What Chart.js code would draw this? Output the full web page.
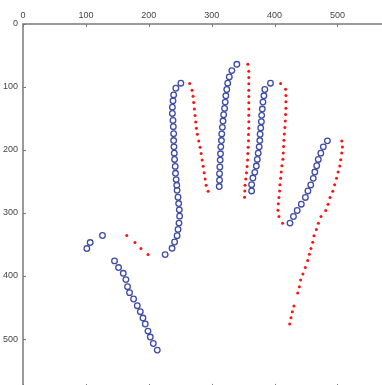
<!DOCTYPE html>
<html>
<head>
<meta charset="utf-8">
<script src="https://cdn.jsdelivr.net/npm/chart.js@4/dist/chart.umd.min.js"></script>
<style>
html,body{margin:0;padding:0;overflow:hidden;background:#fff;width:382px;height:385px;}
#c{position:absolute;left:0;top:0;width:390px;height:391px;}
</style>
</head>
<body>
<canvas id="c" width="390" height="391"></canvas>
<script>
// Tick labels
const xTicks = [0, 100, 200, 300, 400, 500];
const yTicks = [0, 100, 200, 300, 400, 500];

// Blue open-circle series (contour points)
const blueX = [
  213.5, 207.2, 202.4, 198.7, 194.4, 190.7, 186.5, 181.7, 175.8, 169.4, 166.2, 163.6, 159.4, 151.9, 145.5,
  126.4, 106.8, 101.5,
  226, 237, 241, 245, 246.5, 248, 249, 248.5, 247.5, 246.5, 245, 244.5, 243.5, 242.5, 242, 241, 240.5, 240, 239.5, 239.5, 239, 238.5, 237.5, 237.5, 238.5, 239.5, 243, 251,
  340, 332, 328, 325.5, 324, 322.5, 321.5, 320.5, 319, 318, 317, 316, 315.5, 314.5, 314, 313.5, 313, 312.5, 312.5, 312,
  393.5, 384.5, 383, 381.5, 380.5, 379.5, 379, 378, 377, 376.5, 375.5, 374, 372.5, 371, 368.5, 365.5, 363.5, 363.5,
  484, 477.5, 473.5, 469.5, 467, 464, 461.5, 457.5, 453, 449, 442.5, 436, 430, 424.5
];
const blueY = [
  517.6, 507.1, 496.9, 487.4, 476.2, 466.7, 456.6, 447.1, 436.5, 426.4, 416.9, 405.7, 395.7, 386.6, 376,
  335.7, 346.9, 356.4,
  366, 356, 346, 336, 326, 316, 305, 295, 285, 275, 264, 256, 247, 237, 226, 215, 205, 195, 185, 174, 163, 153, 142, 132, 122, 112.5, 102, 94,
  64, 74, 84, 94, 104, 114, 124, 134, 144, 154, 164, 174.5, 185, 195, 206, 216, 227, 237.5, 248, 258,
  94, 104, 114, 124, 135, 145, 155, 165, 175, 185, 195, 205, 215, 225.5, 235.5, 244.5, 255, 265,
  185.5, 195, 205, 215, 225, 235, 245, 255.5, 265, 275.3, 286, 296, 305.5, 316
];

// Red dot series
const redX = [
  165, 178, 187.5, 198.7,
  265, 268.8, 270.4, 271.4, 272.5, 273.6, 274.6, 275.7, 277.3, 279.4, 281.6, 283.2, 284.8, 286.4, 288, 289.6, 291.2, 294.3,
  357.5, 359, 359, 359, 359, 359, 359, 359, 359, 359, 359, 358.5, 358.5, 358, 357.5, 357, 356.3, 355.3, 354.2, 353, 352.7, 352.2,
  409.6, 417.5, 418, 418, 418, 417.5, 417, 416.4, 415.5, 414.8, 414.3, 413.9, 413.2, 411.6, 410.6, 409.6, 408.5, 408, 406.9, 405.9, 405.4, 406.9, 412.7,
  506.8, 507.9, 506.8, 505.2, 503.6, 501, 498.5, 495.5, 492.5, 488.1, 485, 481.3, 473.8, 469.6, 466.5, 462.6, 460.6, 457.9, 455.3, 452.6, 448.9, 445.1, 441.4, 439.4, 436.7, 430.8, 428.2, 426.1, 424
];
const redY = [
  335.7, 347, 356.4, 366,
  94.4, 105, 114.6, 124.6, 134.8, 145.3, 155.4, 165.5, 175, 185.7, 195.7, 205.7, 215.9, 225.9, 236, 246.1, 255.9, 265.3,
  64, 75, 85, 95, 105, 115, 125, 135, 145, 155, 165.5, 175.5, 185.5, 195.5, 205.7, 216, 226, 236, 246, 256, 265, 275,
  94.4, 103.4, 113.4, 123.5, 133.6, 143.7, 153.9, 164.4, 174.5, 184.6, 194.6, 204.8, 214.8, 224.8, 235, 245, 255.1, 265.2, 275.3, 285.3, 295.5, 305.5, 316.1,
  185.7, 195.2, 204.8, 215.3, 225.5, 235, 245, 255.3, 265.5, 275.3, 285.9, 296, 305.5, 316.1, 326.2, 336.2, 346.4, 356.4, 365.5, 375.5, 386.6, 396.7, 406.3, 416.9, 426.9, 447.6, 456.6, 466.2, 476.2
];

const toPts = (xs, ys) => xs.map((x, i) => ({x: x, y: ys[i]}));

const AXIS_COLOR = '#7a7a7a';
const innerTicks = {
  id: 'innerTicks',
  afterDraw(chart) {
    const ctx = chart.ctx, a = chart.chartArea;
    const xs = chart.scales.x, ys = chart.scales.y;
    ctx.save();
    ctx.strokeStyle = AXIS_COLOR;
    ctx.lineWidth = 1;
    ctx.beginPath();
    xTicks.forEach(v => {
      const p = Math.round(xs.getPixelForValue(v)) + 0.5;
      ctx.moveTo(p, a.top); ctx.lineTo(p, a.top + 3);
      ctx.moveTo(p, a.bottom); ctx.lineTo(p, a.bottom - 3);
    });
    yTicks.forEach(v => {
      const p = Math.round(ys.getPixelForValue(v)) + 0.5;
      ctx.moveTo(a.left, p); ctx.lineTo(a.left + 3, p);
      ctx.moveTo(a.right, p); ctx.lineTo(a.right - 3, p);
    });
    ctx.stroke();
    ctx.lineWidth = 1.5;
    ctx.beginPath();
    ctx.moveTo(a.left, a.bottom); ctx.lineTo(a.left, a.top); ctx.lineTo(a.right, a.top);
    ctx.lineTo(a.right, a.bottom); ctx.lineTo(a.left, a.bottom);
    ctx.stroke();
    ctx.restore();
  }
};

const zeroPad = s => { s.paddingLeft = 0; s.paddingRight = 0; s.paddingTop = 0; s.paddingBottom = 0; };

new Chart(document.getElementById('c'), {
  type: 'scatter',
  data: {
    datasets: [
      {
        label: 'blue',
        data: toPts(blueX, blueY),
        pointStyle: 'circle',
        pointRadius: 2.8,
        pointBorderWidth: 1.3,
        borderColor: '#3e4ba6',
        backgroundColor: 'rgba(0,0,0,0)',
        pointHoverRadius: 2.8
      },
      {
        label: 'red',
        data: toPts(redX, redY),
        pointStyle: 'circle',
        pointRadius: 1.5,
        pointBorderWidth: 0,
        borderColor: '#ff1010',
        backgroundColor: '#ff1010',
        pointHoverRadius: 1.5
      }
    ]
  },
  options: {
    responsive: false,
    maintainAspectRatio: false,
    devicePixelRatio: 1,
    animation: false,
    events: [],
    layout: {padding: {left: 0, top: 0, right: 1, bottom: 1}},
    plugins: {legend: {display: false}, tooltip: {enabled: false}},
    scales: {
      x: {
        type: 'linear',
        position: 'top',
        min: 0,
        max: 577,
        afterBuildTicks: s => { s.ticks = xTicks.map(v => ({value: v})); },
        afterFit: s => { s.height = 24; zeroPad(s); },
        grid: {display: false, drawTicks: false},
        border: {display: false},
        ticks: {
          padding: 3,
          maxRotation: 0,
          autoSkip: false,
          color: '#444',
          font: {family: 'Liberation Sans, Arial, sans-serif', size: 9}
        }
      },
      y: {
        type: 'linear',
        reverse: true,
        min: 0,
        max: 576,
        afterBuildTicks: s => { s.ticks = yTicks.map(v => ({value: v})); },
        afterFit: s => { s.width = 23; zeroPad(s); },
        grid: {display: false, drawTicks: false},
        border: {display: false},
        ticks: {
          padding: 5,
          autoSkip: false,
          color: '#444',
          font: {family: 'Liberation Sans, Arial, sans-serif', size: 9}
        }
      }
    }
  },
  plugins: [innerTicks]
});
</script>
</body>
</html>
